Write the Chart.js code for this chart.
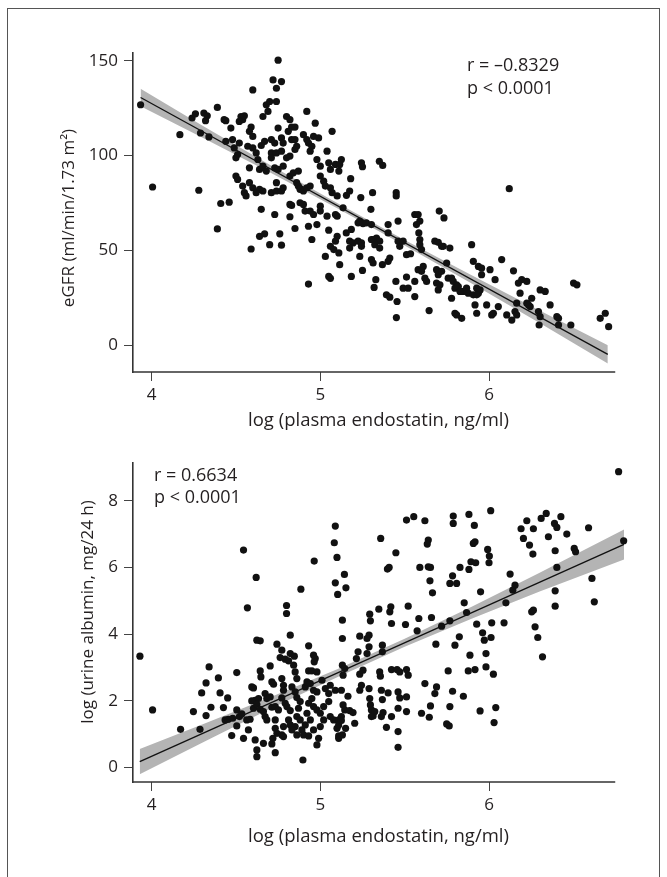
<!DOCTYPE html>
<html lang="en">
<head>
<meta charset="UTF-8">
<title>Plasma endostatin vs eGFR and urine albumin</title>
<script src="https://cdn.jsdelivr.net/npm/chart.js@4"></script>
<style>
  html, body { margin: 0; padding: 0; background: #fff; }
  body { width: 667px; height: 877px; position: relative; overflow: hidden; }
  .frame { position: absolute; left: 7px; top: 8px; width: 651px; height: 920px; border: 1.5px solid #555; }
  canvas { position: absolute; left: 0; }
  #egfrChart { top: 0; }
  #albChart { top: 440px; }
</style>
</head>
<body>
<div class="frame"></div>
<canvas id="egfrChart" width="667" height="440"></canvas>
<canvas id="albChart" width="667" height="437"></canvas>

<script>
// axis ticks
const xTicks = [4, 5, 6];
const egfrTicks = [0, 50, 100, 150];
const albTicks = [0, 2, 4, 6, 8];

// top panel: log endostatin vs eGFR
const egfrPoints = [
  [3.935,126.8],[4.006,83.4],[4.168,111],[4.24,119.8],[4.26,122],[4.31,122.4],[4.33,121],[4.32,118.4],[4.29,111.9],[4.34,109.8],
  [4.28,81.7],[4.39,125.4],[4.43,118.9],[4.44,118.4],[4.47,114.5],[4.44,107.5],[4.48,108.4],[4.49,104],[4.51,100.5],[4.50,98.8],
  [4.52,106.6],[4.53,120.6],[4.54,118.9],[4.52,118],[4.55,121],[4.60,134.6],[4.59,115],[4.58,112.8],[4.60,110.1],[4.57,104.9],
  [4.60,104],[4.62,101.4],[4.50,89.2],[4.51,87.4],[4.54,83.9],[4.56,78.7],[4.55,80.4],[4.58,85.7],[4.60,83],[4.58,93.5],
  [4.64,92.7],[4.63,97.9],[4.66,120.6],[4.67,107.5],[4.65,105.3],[4.68,126.8],[4.70,128.5],[4.69,123.3],[4.72,139.9],[4.77,139],
  [4.74,135.5],[4.74,128.5],[4.75,150.3],[4.71,108.4],[4.73,106.6],[4.75,114.5],[4.77,109.3],[4.78,106.6],[4.71,101.4],[4.74,101.4],
  [4.77,102.3],[4.71,98.8],[4.80,98.8],[4.82,99.7],[4.66,94.4],[4.68,91.8],[4.73,93.5],[4.75,92.7],[4.78,94.4],[4.80,120.6],
  [4.82,118.9],[4.83,115],[4.85,115],[4.81,112.8],[4.83,108.4],[4.85,108.4],[4.85,103.2],[4.86,104.9],[4.82,89.2],[4.84,90.9],
  [4.87,91.8],[4.74,85.7],[4.78,83],[4.71,80.4],[4.74,81.3],[4.77,81.3],[4.66,81.3],[4.64,82.2],[4.62,80.4],[4.86,85.7],
  [4.87,83.9],[4.88,82.2],[4.90,81.3],[4.92,83],[4.94,83.9],[4.90,111],[4.92,108.4],[4.93,106.6],[4.94,102.3],[4.95,104.9],
  [4.96,110.1],[4.97,117.1],[4.99,109.3],[4.92,123.3],[5.07,112.8],[5.04,102.3],[5.05,96.2],[5.06,92.7],[5.09,95.3],[5.11,91.8],
  [5.00,89.2],[5.02,86.5],[5.03,83.9],[4.98,97.9],[5.00,94.4],[5.06,83],[5.07,80.4],[5.10,78.7],
  [5.125,97.9],[5.115,95.3],[5.244,96.2],[5.25,94.1],[5.35,97],[5.37,94.8],[5.18,87.8],[5.155,79],[5.174,81.3],[5.24,77.8],
  [5.31,80.4],[5.45,80.4],[5.45,78.7],[6.12,82.5],
  [4.41,74.7],[4.46,75.4],[4.39,61.3],[4.59,50.7],[4.64,57.4],[4.67,58.7],[4.65,71.6],[4.70,53],[4.73,68.9],[4.76,58.7],
  [4.77,52.7],[4.82,67.7],[4.85,61.5],[4.82,74.2],[4.83,73.7],[4.88,75.1],[4.90,74.2],[4.91,70.7],[4.93,62.7],[4.95,55.7],
  [4.98,63.6],[4.93,32.2],[4.94,70.7],[4.96,68.9],[5.00,73.3],[5.00,70.7],[5.03,46.8],[5.05,60.6],[5.06,52.1],[5.08,50.4],
  [5.09,54.8],[5.11,48.6],[5.10,57.4],[5.10,68],[5.09,68.9],[5.04,68],[5.05,36.2],[5.06,35.2],[5.115,42.4],
  [5.135,72.4],[5.154,59.2],[5.184,61],[5.174,54.8],[5.194,53.9],[5.224,54.8],[5.244,53.9],[5.244,52.1],[5.174,51.2],[5.234,46.8],
  [5.184,36.2],[5.25,39.4],[5.224,64.5],[5.234,65.4],[5.253,64.1],[5.273,64.5],[5.303,63.6],[5.30,71.6],[5.313,55.7],[5.333,56.5],
  [5.352,54.8],[5.303,55.7],[5.323,53],[5.352,51.2],[5.303,45.1],[5.313,43.3],[5.329,34.5],[5.319,30.4],[5.368,42.4],[5.402,63.6],
  [5.402,59.2],[5.412,45.9],[5.402,44.2],[5.392,26.5],[5.412,25.3],[5.455,23],[5.451,14.5],[5.461,65.4],[5.461,54.8],[5.471,52.1],
  [5.491,54.8],[5.448,33.6],[5.511,47.7],[5.535,48.2],[5.491,30],[5.521,30],[5.56,25.6],[5.511,35.9],[5.56,33.6],[5.56,68.9],
  [5.58,68.9],[5.59,65.4],[5.57,63.6],[5.584,59.2],[5.59,55.7],[5.59,53],[5.6,50.4],[5.58,39.8],[5.61,41.5],[5.62,35.3],
  [5.63,33.6],[5.6,38.9],[5.645,18.2],[5.705,70.7],[5.733,67.1],[5.679,54.8],[5.699,54.2],[5.719,52.1],[5.729,52.1],[5.689,39.8],
  [5.699,37.1],[5.719,38.9],[5.689,32.7],[5.709,31.8],[5.699,29.1],[5.768,51.2],[5.749,43.3],[5.758,35.3],[5.778,35.3],[5.788,33.6],
  [5.808,31.8],[5.798,30],[5.778,24.7],[5.798,16.8],[5.808,15.9],[5.838,14.1],[5.818,30.9],[5.867,30],[5.877,27.4],[5.848,28.3],
  [5.828,28.3],[5.897,53],[5.907,44.2],[5.937,41.5],[5.956,40.6],[5.927,30],[5.937,27.4],[5.947,29.1],[5.907,26.5],[5.927,26.5],
  [5.917,21.2],[5.927,16.8],[5.986,21.2],[6.006,39.8],[5.956,37.1],[6.016,15.9],[6.026,16.8],[6.036,34.5],[6.075,45.1],[6.055,20.3],
  [6.105,15.9],[6.145,39.2],[6.164,22.1],[6.154,17.7],[6.164,15.9],[6.135,13.2],[6.174,32.7],[6.194,34.5],[6.224,33.6],[6.184,27.4],
  [6.224,22.1],[6.244,20.3],[6.253,24.7],[6.234,21.2],[6.303,29.1],[6.333,28.3],[6.293,17.7],[6.303,15],[6.297,10.6],[6.362,21.2],
  [6.412,14.1],[6.412,10.6],[6.402,15],[6.485,10.6],[6.501,32.7],[6.521,31.8],[6.659,14.1],[6.689,16.8],[6.709,9.7]
];
const egfrLineX = [3.935, 6.704];
const egfrLineY = [130.6, -4.9];
const egfrBandX = [3.935, 4.3, 4.7, 5.1, 5.5, 5.9, 6.3, 6.704];
const egfrBandHi = [135.2, 115.9, 95.2, 75.0, 55.4, 36.7, 18.2, -0.1];
const egfrBandLo = [126.0, 109.5, 91.2, 72.2, 52.6, 32.3, 11.6, -9.7];

// bottom panel: log endostatin vs log urine albumin
const albPoints = [
  [4.545,6.52],[4.568,4.79],[4.62,5.70],[4.80,4.86],[4.80,4.62],[4.885,5.35],[4.964,6.19],[5.089,7.24],[5.083,6.74],[5.099,6.30],
  [5.089,5.54],[5.103,5.19],[5.143,5.79],[5.152,5.39],
  [6.768,8.87],[6.798,6.80],[5.358,6.87],[5.448,6.44],[5.398,5.95],[5.408,6.00],[5.511,7.42],[5.554,7.52],[5.62,7.40],[5.59,6.00],
  [5.64,6.02],[5.653,6.00],[5.65,5.60],[5.665,5.24],[5.64,6.82],[5.634,6.70],[5.788,7.54],[5.788,7.32],[5.881,7.59],[5.913,7.26],
  [5.907,6.72],[5.917,6.77],[6.01,7.70],[5.784,5.75],[5.768,5.52],[5.808,5.52],[5.828,6.00],[5.881,5.94],[5.893,6.17],[5.921,6.14],
  [5.992,6.54],[6.002,6.34],[6.0,6.14],[5.853,4.94],[5.867,4.65],[5.95,5.27],[6.10,4.94],[6.125,5.80],[6.154,5.47],[6.141,5.32],
  [6.19,7.16],[6.224,7.40],[6.263,7.16],[6.204,6.87],[6.24,6.67],[6.26,6.40],[6.309,7.47],[6.339,7.62],[6.388,7.32],[6.402,7.20],
  [6.426,7.52],[6.352,6.92],[6.461,7.00],[6.392,6.50],[6.505,6.57],[6.513,6.47],[6.59,7.19],[6.402,6.00],[6.61,5.67],[6.392,5.30],
  [6.392,4.84],[6.624,4.97],[6.253,4.67],[6.263,4.72],[6.273,4.22],[6.289,3.90],[5.131,4.42],[5.131,3.87],[5.293,4.60],[5.297,4.40],
  [5.347,4.75],[5.418,4.82],[5.412,4.67],[5.521,4.84],[5.422,4.32],[5.505,4.29],[5.584,4.47],[5.659,4.50],[5.574,4.10],[5.719,4.24],
  [5.768,4.40],[5.234,3.94],[5.289,3.97],[5.277,3.87],[5.289,3.62],[5.368,3.67],[5.685,3.70],[5.798,3.67],[5.824,3.92],[5.927,4.30],
  [5.962,4.04],[5.972,3.82],[6.012,3.90],[6.016,4.34],[6.089,4.34],
  [3.931,3.34],[4.006,1.73],[4.172,1.15],[4.248,1.68],[4.287,1.15],[4.297,2.24],[4.323,2.54],[4.341,3.02],[4.323,1.56],[4.352,1.81],
  [4.396,2.69],[4.406,2.24],[4.426,1.80],[4.451,2.09],[4.436,1.43],[4.455,1.45],[4.481,1.48],[4.475,0.96],[4.505,2.85],[4.505,1.73],
  [4.505,1.25],[4.521,1.53],[4.545,0.88],[4.535,1.61],[4.564,1.43],[4.584,1.45],[4.574,1.13],[4.594,2.42],[4.604,2.39],[4.594,2.0],
  [4.614,2.02],[4.634,2.07],[4.604,1.78],[4.624,1.90],[4.644,1.75],[4.614,0.83],[4.624,0.53],[4.624,0.33],[4.644,2.90],[4.648,2.72],
  [4.624,3.82],[4.644,3.80],[4.663,0.73],[4.673,2.22],[4.683,2.07],[4.703,2.12],[4.713,1.81],[4.673,1.53],[4.663,1.68],[4.683,1.43],
  [4.703,3.05],[4.713,2.57],[4.723,2.50],[4.733,1.43],[4.733,1.18],[4.743,1.03],[4.719,0.88],[4.713,0.71],[4.733,0.45],[4.733,1.83],
  [4.752,1.73],[4.743,3.70],[4.772,3.52],[4.762,3.30],[4.792,3.25],[4.772,2.67],[4.782,2.47],[4.782,2.32],[4.772,2.09],[4.792,1.93],
  [4.802,1.83],[4.822,1.71],[4.812,1.43],[4.822,1.28],[4.782,1.23],[4.772,0.98],[4.782,0.93],[4.822,3.97],[4.822,3.42],[4.846,3.34],
  [4.812,3.20],[4.842,3.07],[4.851,2.87],[4.861,2.67],[4.832,2.42],[4.851,2.27],[4.861,2.10],[4.881,1.98],[4.871,1.78],[4.861,1.53],
  [4.881,1.43],[4.851,1.23],[4.861,0.98],[4.832,1.13],[4.891,1.13],[4.901,0.98],[4.897,0.23],[4.911,2.42],[4.921,2.57],[4.941,2.52],
  [4.96,2.32],[4.98,2.27],[4.95,2.07],[4.931,1.93],[4.96,1.83],[4.98,1.73],[4.921,1.63],[4.941,1.43],[4.911,1.28],[4.96,1.13],
  [4.931,0.95],[4.99,0.88],[4.931,3.65],[4.96,3.37],[4.97,3.27],[4.964,3.17],[4.931,2.90],[4.95,2.90],[4.98,2.87],[4.98,0.68],
  [5.0,1.23],[5.02,1.43],[5.01,2.62],[5.03,2.37],[5.059,2.47],[5.089,2.32],[5.05,2.22],[5.05,1.98],[5.02,1.83],[5.0,1.63],
  [5.059,1.53],[5.079,1.43],[5.099,1.18],[5.109,1.43],[5.109,1.28],[5.109,0.95],[5.109,0.88],
  [5.131,3.07],[5.145,2.97],[5.135,2.77],[5.125,2.32],[5.164,2.14],[5.135,1.88],[5.145,1.73],[5.174,1.71],[5.194,1.65],[5.125,1.53],
  [5.125,1.41],[5.15,1.18],[5.131,0.98],[5.204,1.33],[5.214,3.27],[5.224,3.47],[5.234,2.80],[5.253,2.92],[5.234,2.32],[5.244,2.47],
  [5.289,2.37],[5.277,3.42],[5.293,2.07],[5.297,1.88],[5.303,1.73],[5.303,1.53],[5.313,1.55],[5.323,1.68],[5.352,2.87],[5.356,2.74],
  [5.368,3.47],[5.362,2.32],[5.368,2.04],[5.402,2.24],[5.362,1.53],[5.372,1.65],[5.392,1.21],[5.422,2.94],[5.455,2.94],[5.471,2.87],
  [5.511,2.94],[5.521,2.77],[5.422,1.53],[5.461,2.27],[5.471,2.09],[5.511,2.12],[5.461,1.78],[5.511,1.68],[5.461,1.08],[5.461,0.61],
  [5.60,1.63],[5.646,1.51],[5.62,2.52],[5.653,1.85],[5.689,2.42],[5.679,2.22],[5.758,2.90],[5.768,1.83],[5.784,2.29],[5.749,1.31],
  [5.764,1.25],[5.848,2.14],[5.887,3.37],[5.877,2.90],[5.917,2.94],[5.982,3.42],[5.982,3.02],[6.026,2.80],[5.947,1.70],[6.04,1.80],
  [6.03,1.35],[6.317,3.32]
];
const albLineX = [3.93, 6.80];
const albLineY = [0.18, 6.69];
const albBandX = [3.93, 4.3, 4.7, 5.1, 5.5, 5.9, 6.3, 6.8];
const albBandHi = [0.56, 1.29, 2.10, 2.95, 3.86, 4.83, 5.84, 7.14];
const albBandLo = [-0.20, 0.75, 1.76, 2.71, 3.62, 4.47, 5.28, 6.24];

const FONT = "'Open Sans', sans-serif";
const INK = '#231f20';

// draws the x axis line (it stops short of the plot edge) and the free text
const figureText = {
  id: 'figureText',
  beforeDatasetsDraw(chart, args, opts) {
    const ctx = chart.ctx, area = chart.chartArea;
    const xs = chart.scales.x;
    ctx.save();
    ctx.strokeStyle = '#333';
    ctx.lineWidth = 1.6;
    ctx.beginPath();
    ctx.moveTo(area.left - 0.8, area.bottom);
    ctx.lineTo(xs.getPixelForValue(opts.axisEnd), area.bottom);
    ctx.stroke();
    ctx.restore();
  },
  afterDraw(chart, args, opts) {
    const ctx = chart.ctx;
    ctx.save();
    ctx.fillStyle = INK;
    ctx.textBaseline = 'middle';
    opts.labels.forEach(l => {
      ctx.font = l.size + 'px ' + FONT;
      ctx.save();
      ctx.translate(l.x, l.y);
      if (l.rotate) {
        ctx.rotate(-Math.PI / 2);
        ctx.textAlign = 'center';
      } else {
        ctx.textAlign = 'left';
      }
      ctx.fillText(l.text, 0, 0);
      ctx.restore();
    });
    ctx.restore();
  }
};

function xy(xs, ys) {
  return xs.map((x, i) => ({ x: x, y: ys[i] }));
}

function makePanel(id, cfg) {
  return new Chart(document.getElementById(id), {
    type: 'scatter',
    data: {
      datasets: [
        {
          data: cfg.points.map(p => ({ x: p[0], y: p[1] })),
          backgroundColor: '#111',
          borderWidth: 0,
          pointRadius: 3.6,
          clip: false,
          order: 0
        },
        {
          type: 'line',
          data: xy(cfg.lineX, cfg.lineY),
          borderColor: '#111',
          borderWidth: 1.3,
          pointRadius: 0,
          fill: false,
          clip: false,
          order: 1
        },
        {
          type: 'line',
          data: xy(cfg.bandX, cfg.bandHi),
          borderColor: 'rgba(0,0,0,0)',
          borderWidth: 0,
          pointRadius: 0,
          fill: false,
          order: 2
        },
        {
          type: 'line',
          data: xy(cfg.bandX, cfg.bandLo),
          borderColor: 'rgba(0,0,0,0)',
          borderWidth: 0,
          backgroundColor: '#b4b4b4',
          pointRadius: 0,
          fill: '-1',
          order: 2
        }
      ]
    },
    options: {
      responsive: false,
      animation: false,
      events: [],
      layout: { padding: { top: cfg.padTop, right: 43, left: 0, bottom: 0 } },
      plugins: {
        legend: { display: false },
        tooltip: { enabled: false },
        figureText: { axisEnd: 6.748, labels: cfg.labels }
      },
      scales: {
        x: {
          type: 'linear',
          min: 3.89,
          max: 6.8,
          afterBuildTicks: s => { s.ticks = xTicks.map(v => ({ value: v })); },
          afterFit: s => { s.height = cfg.xAxisHeight; },
          grid: { drawOnChartArea: false, drawTicks: true, tickLength: 9, tickColor: '#444', tickWidth: 1 },
          border: { display: false },
          ticks: { padding: 4, color: INK, font: { family: FONT, size: 17 } },
          title: {
            display: true,
            text: 'log (plasma endostatin, ng/ml)',
            color: INK,
            font: { family: FONT, size: 18.5 },
            padding: { top: 0, bottom: cfg.xTitlePad }
          }
        },
        y: {
          type: 'linear',
          min: cfg.yMin,
          max: cfg.yMax,
          afterBuildTicks: s => { s.ticks = cfg.yTicks.map(v => ({ value: v })); },
          afterFit: s => { s.width = 133; },
          grid: { drawOnChartArea: false, drawTicks: true, tickLength: 9, tickColor: '#444', tickWidth: 1 },
          border: { display: true, color: '#333', width: 1.6 },
          ticks: { padding: 6, color: INK, font: { family: FONT, size: 17 } }
        }
      }
    },
    plugins: [figureText]
  });
}

makePanel('egfrChart', {
  points: egfrPoints,
  lineX: egfrLineX, lineY: egfrLineY,
  bandX: egfrBandX, bandHi: egfrBandHi, bandLo: egfrBandLo,
  yTicks: egfrTicks, yMin: -14.2, yMax: 154.1,
  padTop: 53, xAxisHeight: 68, xTitlePad: 8,
  labels: [
    { text: 'r = \u20130.8329', x: 467, y: 66, size: 18 },
    { text: 'p < 0.0001', x: 467, y: 89, size: 18 },
    { text: 'eGFR (ml/min/1.73 m\u00b2)', x: 69, y: 218, size: 17, rotate: true }
  ]
});

makePanel('albChart', {
  points: albPoints,
  lineX: albLineX, lineY: albLineY,
  bandX: albBandX, bandHi: albBandHi, bandLo: albBandLo,
  yTicks: albTicks, yMin: -0.43, yMax: 9.13,
  padTop: 23, xAxisHeight: 95, xTitlePad: 29,
  labels: [
    { text: 'r = 0.6634', x: 154, y: 36, size: 18 },
    { text: 'p < 0.0001', x: 154, y: 58, size: 18 },
    { text: 'log (urine albumin, mg/24 h)', x: 88, y: 172, size: 17, rotate: true }
  ]
});
</script>
</body>
</html>
